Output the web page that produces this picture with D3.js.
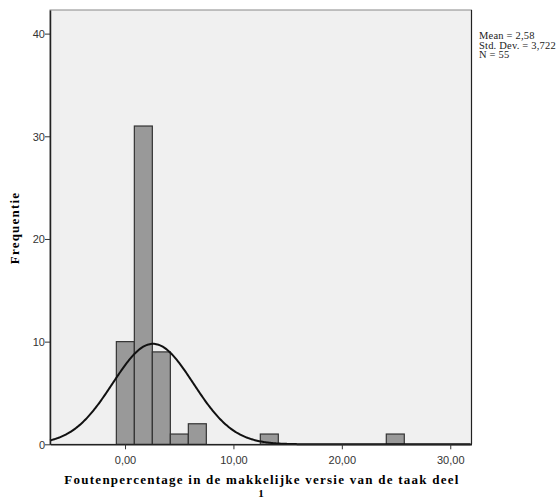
<!DOCTYPE html>
<html>
<head>
<meta charset="utf-8">
<script src="https://cdn.jsdelivr.net/npm/d3@7"></script>
<style>
	body { margin: 0; background: #fff; }
	.tick text { font-family: "Liberation Sans", Arial, sans-serif; font-size: 11px; fill: #333; }
</style>
</head>
<body>
<svg id="chart"></svg>
<script>
// histogram bins (lower edge, count), bin width
const binStart = [-0.8, 0.86, 2.52, 4.18, 5.84, 12.48, 24.1];
const binCount = [10, 31, 9, 1, 2, 1, 1];
const binWidth = 1.66;
const xTicks = [0, 10, 20, 30];
const yTicks = [0, 10, 20, 30, 40];
const stats = { mean: 2.58, sd: 3.722, n: 55 };
const statLines = ["Mean = 2,58", "Std. Dev. = 3,722", "N = 55"];

const width = 560, height = 499;
const plot = { left: 50, top: 10, right: 471.5, bottom: 444.3 };

const svg = d3.select("#chart").attr("width", width).attr("height", height);

const x = d3.scaleLinear().domain([-6.92, 31.96]).range([plot.left, plot.right]);
const y = d3.scaleLinear().domain([0, 42.3]).range([plot.bottom, plot.top]);

//plot background
svg.append("rect")
	.attr("x", plot.left).attr("y", plot.top)
	.attr("width", plot.right - plot.left).attr("height", plot.bottom - plot.top)
	.attr("fill", "#f0f0f0")
	.attr("stroke", "#888").attr("stroke-width", 1);

//bars
svg.selectAll(".bar")
	.data(binStart)
	.enter()
	.append("rect")
	.attr("class", "bar")
	.attr("x", (d) => x(d))
	.attr("width", (d) => x(d + binWidth) - x(d))
	.attr("y", (d, i) => y(binCount[i]))
	.attr("height", (d, i) => y(0) - y(binCount[i]))
	.attr("fill", "#999999")
	.attr("stroke", "#333")
	.attr("stroke-width", 1.2);

//normal curve from the stated mean / sd
const scale = stats.n * binWidth / (stats.sd * Math.sqrt(2 * Math.PI));
const curveX = d3.range(x.domain()[0], x.domain()[1], 0.1);
svg.append("path")
	.datum(curveX)
	.attr("fill", "none")
	.attr("stroke", "#111")
	.attr("stroke-width", 2)
	.attr("d", d3.line()
		.x((d) => x(d))
		.y((d) => y(scale * Math.exp(-0.5 * Math.pow((d - stats.mean) / stats.sd, 2)))));

//axes
const xAxis = svg.append("g")
	.attr("transform", `translate(0, ${plot.bottom})`)
	.call(d3.axisBottom(x).tickValues(xTicks).tickSize(5).tickSizeOuter(0)
		.tickFormat((d) => d3.format(".2f")(d).replace(".", ",")));
xAxis.select(".domain").attr("stroke", "#222").attr("stroke-width", 1.5);
xAxis.selectAll(".tick line").attr("stroke", "#333");
xAxis.selectAll(".tick text").attr("dy", "1.1em");

const yAxis = svg.append("g")
	.attr("transform", `translate(${plot.left}, 0)`)
	.call(d3.axisLeft(y).tickValues(yTicks).tickSize(5).tickSizeOuter(0));
yAxis.select(".domain").attr("stroke", "#222").attr("stroke-width", 1.5);
yAxis.selectAll(".tick line").attr("stroke", "#333");
yAxis.selectAll(".tick text").attr("x", -5).attr("dy", "0.35em");

//right border darker
svg.append("line")
	.attr("x1", plot.right).attr("x2", plot.right)
	.attr("y1", plot.top).attr("y2", plot.bottom)
	.attr("stroke", "#222").attr("stroke-width", 1.2);

//axis titles
svg.append("text")
	.attr("transform", "translate(19, 228) rotate(-90)")
	.attr("text-anchor", "middle")
	.attr("font-family", "Liberation Serif, Times New Roman, serif")
	.attr("font-weight", "bold")
	.attr("font-size", 13)
	.attr("letter-spacing", 1.2)
	.text("Frequentie");

svg.append("text")
	.attr("x", 262).attr("y", 484)
	.attr("text-anchor", "middle")
	.attr("font-family", "Liberation Serif, Times New Roman, serif")
	.attr("font-weight", "bold")
	.attr("font-size", 13)
	.attr("letter-spacing", 1.25)
	.text("Foutenpercentage in de makkelijke versie van de taak deel");
svg.append("text")
	.attr("x", 261).attr("y", 497)
	.attr("text-anchor", "middle")
	.attr("font-family", "Liberation Serif, Times New Roman, serif")
	.attr("font-weight", "bold")
	.attr("font-size", 11)
	.text("1");

//stats box text
svg.selectAll(".stat")
	.data(statLines)
	.enter()
	.append("text")
	.attr("class", "stat")
	.attr("x", 479)
	.attr("y", (d, i) => 39 + i * 9.5)
	.attr("font-family", "Liberation Serif, Times New Roman, serif")
	.attr("font-size", 10.5)
	.attr("letter-spacing", 0.2)
	.attr("fill", "#222")
	.text((d) => d);
</script>
</body>
</html>
